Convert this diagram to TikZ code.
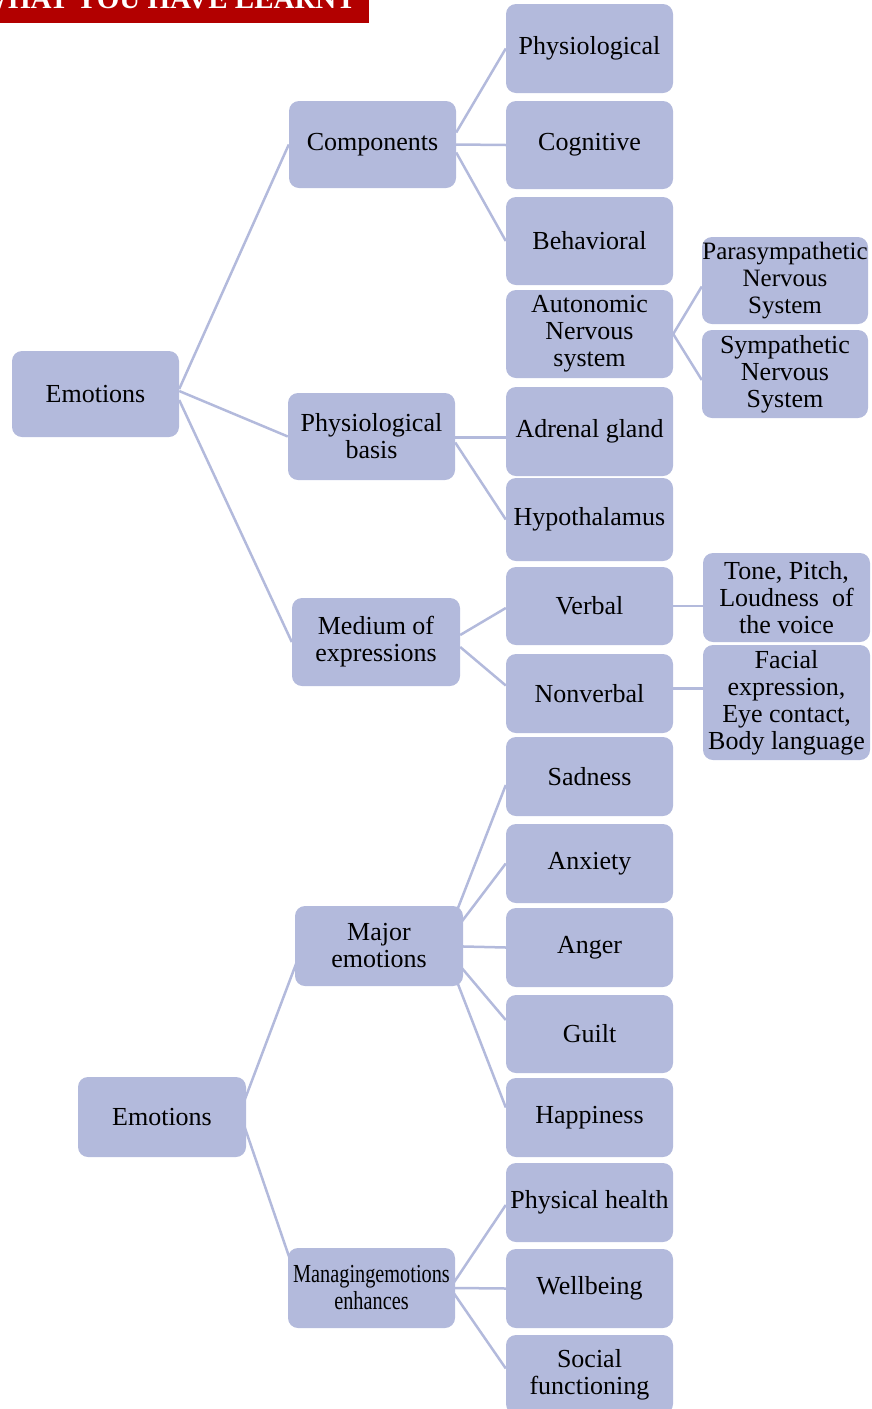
\documentclass[tikz,border=0pt]{standalone}
\usepackage{fontspec}
\setmainfont{Liberation Serif}
\newfontfamily\condensedfont[FakeStretch=0.78]{Liberation Serif}
\usetikzlibrary{backgrounds}
\definecolor{boxfill}{RGB}{179,186,220}
\definecolor{linecol}{RGB}{179,186,220}
\definecolor{headred}{RGB}{178,0,0}
\begin{document}
\begin{tikzpicture}[x=1pt,y=-1pt,
  box/.style={rectangle, rounded corners=10pt, fill=boxfill, draw=none, inner sep=0pt,
    align=center, text=black, font=\fontsize{26}{27}\selectfont},
  link/.style={draw=linecol, line width=2.5pt}]
\useasboundingbox (0,0) rectangle (871,1409);
\clip (0,0) rectangle (871,1409);
% header
\fill[headred] (0,0) rectangle (369,23);
\node[anchor=base east, inner sep=0pt, text=white, font=\bfseries\fontsize{29}{30}\selectfont] (title) at (356,8) {WHAT YOU HAVE LEARNT};
% top tree
\node[box, minimum width=167, minimum height=86] (emo1) at (95.5,394) {Emotions};
\node[box, minimum width=167, minimum height=87] (comp) at (372.5,144.5) {Components};
\node[box, minimum width=167, minimum height=87] (pbasis) at (371.5,436.5) {Physiological\\basis};
\node[box, minimum width=168, minimum height=88] (medium) at (376,642) {Medium of\\expressions};
\node[box, minimum width=167, minimum height=89] (phys) at (589.5,48.5) {Physiological};
\node[box, minimum width=167, minimum height=88] (cogn) at (589.5,145) {Cognitive};
\node[box, minimum width=167, minimum height=88] (behav) at (589.5,241) {Behavioral};
\node[box, minimum width=167, minimum height=88] (auto) at (589.5,334) {Autonomic\\Nervous\\system};
\node[box, minimum width=167, minimum height=89] (adren) at (589.5,431.5) {Adrenal gland};
\node[box, minimum width=167, minimum height=83] (hypo) at (589.5,519.5) {Hypothalamus};
\node[box, minimum width=167, minimum height=78] (verbal) at (589.5,606) {Verbal};
\node[box, minimum width=167, minimum height=79] (nonverbal) at (589.5,693.5) {Nonverbal};
\node[box, minimum width=166, minimum height=87, font=\fontsize{25}{27}\selectfont] (para) at (785,280.5) {Parasympathetic\\Nervous\\System};
\node[box, minimum width=166, minimum height=88] (symp) at (785,374) {Sympathetic\\Nervous\\System};
\node[box, minimum width=167, minimum height=89] (tone) at (786.5,597.5) {Tone, Pitch,\\Loudness\ \ of\\the voice};
\node[box, minimum width=167, minimum height=115] (facial) at (786.5,702.5) {Facial\\expression,\\Eye contact,\\Body language};
% bottom tree
\node[box, minimum width=168, minimum height=80] (emo2) at (162,1117) {Emotions};
\node[box, minimum width=168, minimum height=80] (major) at (379,946) {Major\\emotions};
\node[box, minimum width=167, minimum height=80, font=\condensedfont\fontsize{26}{27}\selectfont] (manage) at (371.5,1288) {Managingemotions\\enhances};
\node[box, minimum width=167, minimum height=79] (sad) at (589.5,776.5) {Sadness};
\node[box, minimum width=167, minimum height=79] (anx) at (589.5,863.5) {Anxiety};
\node[box, minimum width=167, minimum height=79] (anger) at (589.5,947.5) {Anger};
\node[box, minimum width=167, minimum height=78] (guilt) at (589.5,1034) {Guilt};
\node[box, minimum width=167, minimum height=79] (happy) at (589.5,1117.5) {Happiness};
\node[box, minimum width=167, minimum height=79] (physh) at (589.5,1202.5) {Physical health};
\node[box, minimum width=167, minimum height=79] (well) at (589.5,1288.5) {Wellbeing};
\node[box, minimum width=167, minimum height=79] (social) at (589.5,1374.5) {Social\\functioning};
% connectors
\begin{scope}[on background layer]
\draw[link] ([yshift=5pt]emo1.east) -- (comp.west);
\draw[link] ([yshift=3pt]emo1.east) -- (pbasis.west);
\draw[link] ([yshift=-6pt]emo1.east) -- (medium.west);
\draw[link] ([yshift=12pt]comp.east) -- (phys.west);
\draw[link] (comp.east) -- (cogn.west);
\draw[link] ([yshift=-8pt]comp.east) -- (behav.west);
\draw[link] ([yshift=-1pt]pbasis.east) -- ([yshift=-1pt]pbasis.east -| adren.west);
\draw[link] ([yshift=-6pt]pbasis.east) -- (hypo.west);
\draw[link] (auto.east) -- ([yshift=-6pt]para.west);
\draw[link] (auto.east) -- ([yshift=-6pt]symp.west);
\draw[link] ([yshift=7pt]medium.east) -- ([yshift=-2pt]verbal.west);
\draw[link] ([yshift=-5pt]medium.east) -- ([yshift=8pt]nonverbal.west);
\draw[link] (verbal.east) -- (verbal.east -| tone.west);
\draw[link] ([yshift=5pt]nonverbal.east) -- ([yshift=5pt]nonverbal.east -| facial.west);
\draw[link] ([xshift=-8pt]emo2.east) -- ([xshift=8pt]major.west);
\draw[link] ([xshift=-5pt]emo2.east) -- ([xshift=12pt]manage.west);
\draw[link] ([xshift=-20pt]major.east) -- ([yshift=-8.5pt]sad.west);
\draw[link] ([xshift=-20pt]major.east) -- (anx.west);
\draw[link] ([xshift=-20pt]major.east) -- (anger.west);
\draw[link] ([xshift=-20pt]major.east) -- ([yshift=14pt]guilt.west);
\draw[link] ([xshift=-20pt]major.east) -- ([yshift=10pt]happy.west);
\draw[link] ([xshift=-5pt]manage.east) -- ([yshift=-2.5pt]physh.west);
\draw[link] (manage.east) -- (well.west);
\draw[link] ([xshift=-5pt]manage.east) -- ([yshift=6pt]social.west);
\end{scope}
\end{tikzpicture}
\end{document}
